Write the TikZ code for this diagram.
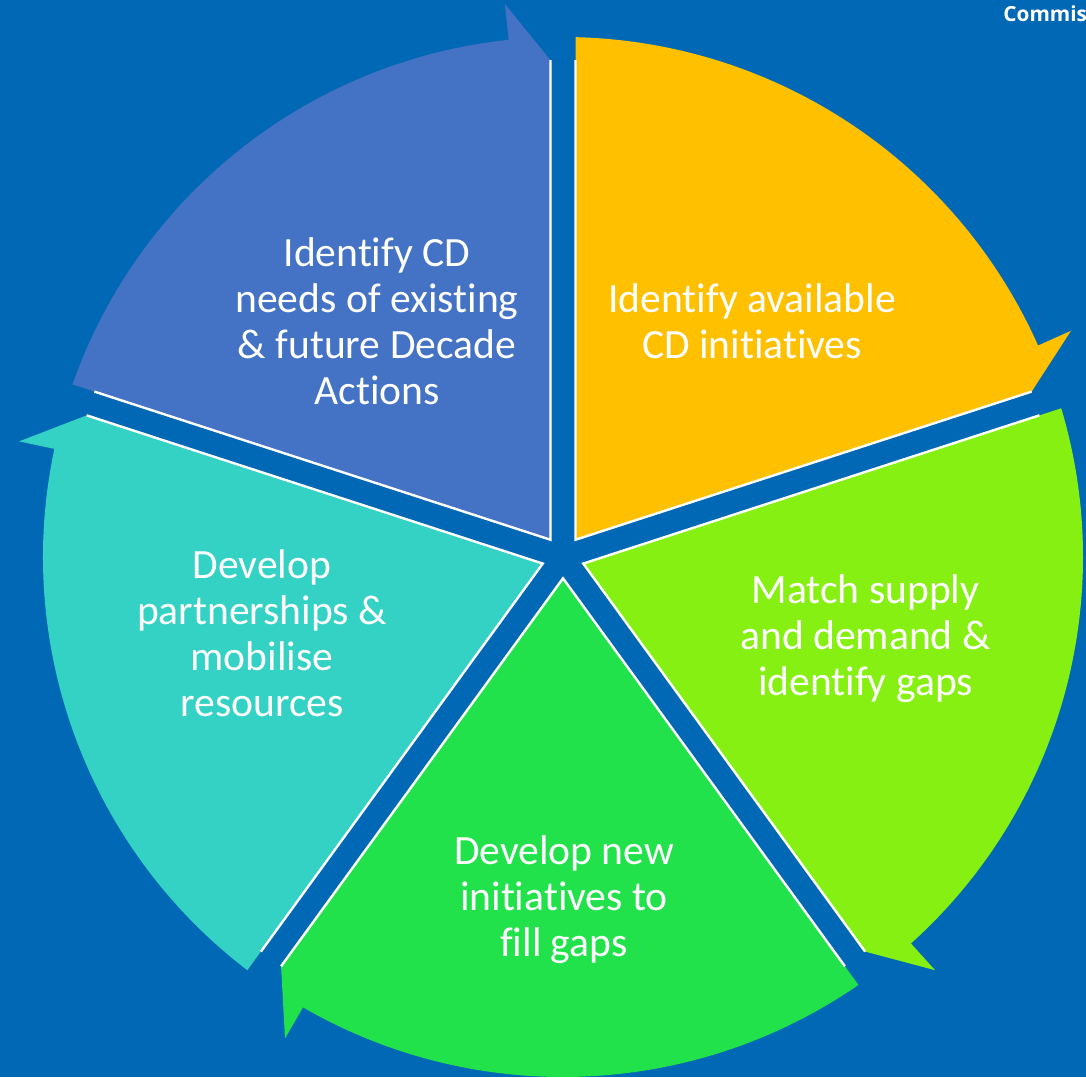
\documentclass[tikz,border=0pt]{standalone}
\usepackage{fontspec}
\setmainfont[Ligatures=NoCommon]{Carlito}
\newfontfamily\hdrfont{Open Sans}
\definecolor{bgblue}{RGB}{0,104,180}
\definecolor{segblue}{RGB}{68,114,196}
\definecolor{segyellow}{RGB}{255,192,0}
\definecolor{seglime}{RGB}{134,240,18}
\definecolor{seggreen}{RGB}{34,226,76}
\definecolor{segteal}{RGB}{51,210,196}
\newcommand\drawseg[2]{%
  \pgfmathsetmacro\segA{#1}%
  \pgfmathsetmacro\segB{#1-72}%
  \pgfmathsetmacro\segM{#1-36}%
  \fill[#2] (\segM:21.3) -- ({\segA-1.38}:520)
     arc[start angle={\segA-1.38}, end angle={\segB+6}, radius=260pt]
     -- ({\segB+6}:556) -- ({\segB+1.44}:497) -- cycle;
  \draw[edgeline] ({\segA-1.44}:497) -- (\segM:21.3) -- ({\segB+1.44}:497);
}
\begin{document}
\begin{tikzpicture}[x=0.5pt,y=0.5pt,
  edgeline/.style={white, line width=1.2pt, line join=miter},
  label/.style={text=white, align=center, inner sep=0pt, anchor=base,
    font=\fontsize{20.8}{23}\selectfont}]
\useasboundingbox (0,0) rectangle (1086,1077);
\fill[bgblue] (0,0) rectangle (1086,1077);
\begin{scope}[shift={(563,520)}]
  \drawseg{162}{segblue}
  \drawseg{90}{segyellow}
  \drawseg{18}{seglime}
  \drawseg{-54}{seggreen}
  \drawseg{234}{segteal}
\end{scope}
% base anchor = baseline of the last line
\node[label] (tblue) at (377,672) {Identify CD\\needs of existing\\\& future Decade\\Actions};
\node[label] (tyellow) at (752,718.7) {Identify available\\CD initiatives};
\node[label] (tlime) at (865.5,382) {Match supply\\and demand \&\\identify gaps};
\node[label] (tgreen) at (564,121) {Develop new\\initiatives to\\fill gaps};
\node[label] (tteal) at (262,361) {Develop\\partnerships \&\\mobilise\\resources};
\begin{scope}
  \clip (0,0) rectangle (1086,1077);
  \node[text=white, anchor=base west, inner sep=0pt,
    font=\hdrfont\bfseries\fontsize{10.4}{12}\selectfont] (hdr) at (1003,1055.3) {Commiss};
\end{scope}
\end{tikzpicture}
\end{document}
